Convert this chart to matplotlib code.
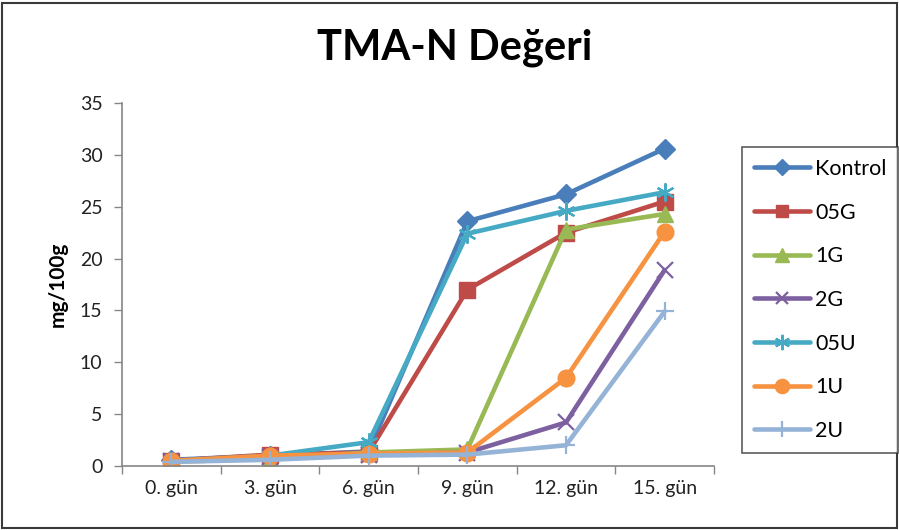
import matplotlib
matplotlib.use("Agg")
import matplotlib.pyplot as plt
from matplotlib.patches import Rectangle
from matplotlib.ticker import FixedLocator, NullFormatter

plt.rcParams["font.family"] = ["Lato", "DejaVu Sans"]

days = ["0. gün", "3. gün", "6. gün", "9. gün", "12. gün", "15. gün"]

kontrol = [0.6, 1.0, 1.4, 23.6, 26.2, 30.6]
g05 = [0.5, 1.1, 1.3, 17.0, 22.5, 25.5]
g1 = [0.4, 0.7, 1.3, 1.6, 22.8, 24.3]
g2 = [0.5, 0.9, 1.1, 1.3, 4.2, 18.9]
u05 = [0.5, 1.0, 2.3, 22.4, 24.6, 26.4]
u1 = [0.5, 1.0, 1.2, 1.3, 8.5, 22.6]
u2 = [0.4, 0.6, 1.0, 1.1, 2.0, 14.9]

series = [
    ("Kontrol", kontrol, "#4A7EBB", "D", 10),
    ("05G", g05, "#BE4B48", "s", 11),
    ("1G", g1, "#98B954", "^", 12),
    ("2G", g2, "#7D60A0", "x", 11),
    ("05U", u05, "#46AAC5", (6, 2, 0), 13),
    ("1U", u1, "#F69240", "o", 12),
    ("2U", u2, "#95B3D7", "+", 13),
]

W, H = 899, 530
fig = plt.figure(figsize=(W / 100, H / 100), dpi=100)

# outer chart frame
fig.patches.append(Rectangle((1.5 / W, 2.5 / H), (W - 4) / W, (H - 5) / H,
                             transform=fig.transFigure, fill=False,
                             edgecolor="#3a3a3a", linewidth=1.5))

ax = fig.add_axes([122 / W, 1 - 466 / H, (714 - 122) / W, (466 - 103) / H])

x = list(range(len(days)))
for name, vals, color, marker, ms in series:
    filled = marker not in ("x", "+", (6, 2, 0))
    ax.plot(x, vals, color=color, linewidth=3.3, marker=marker, markersize=ms,
            markeredgewidth=1.0 if filled else 1.6,
            markerfacecolor=color, markeredgecolor=color, label=name,
            solid_joinstyle="round", solid_capstyle="round")

ax.set_xlim(-0.5, len(days) - 0.5)
ax.set_ylim(0, 35)
ax.set_yticks(range(0, 36, 5))
ax.xaxis.set_major_locator(FixedLocator([i - 0.5 for i in range(len(days) + 1)]))
ax.xaxis.set_major_formatter(NullFormatter())
ax.xaxis.set_minor_locator(FixedLocator(x))
ax.set_xticklabels(days, minor=True)
ax.tick_params(axis="x", which="minor", length=0, pad=10, labelsize=14, labelcolor="#222222")
ax.tick_params(axis="x", which="major", length=6, color="#868686", width=1)
ax.tick_params(axis="y", length=6, color="#868686", width=1, labelsize=14,
               labelcolor="#222222", pad=8)

for s in ("top", "right"):
    ax.spines[s].set_visible(False)
for s in ("left", "bottom"):
    ax.spines[s].set_color("#868686")
    ax.spines[s].set_linewidth(1.2)

ax.set_ylabel("mg/100g", fontsize=15, fontweight="bold", labelpad=9)

fig.text(455 / W, 1 - 48 / H, "TMA-N Değeri", ha="center", va="center",
         fontsize=30, fontweight="bold")

leg = fig.legend(loc="upper left", bbox_to_anchor=(742 / W, 1 - 147 / H),
                 frameon=True, fancybox=False, fontsize=15.5,
                 handlelength=2.6, handletextpad=0.25, labelspacing=1.1,
                 borderpad=0.55, borderaxespad=0, markerscale=0.85)
leg.get_frame().set_edgecolor("#333333")
leg.get_frame().set_linewidth(1.2)

fig.savefig("out.png", dpi=100)
